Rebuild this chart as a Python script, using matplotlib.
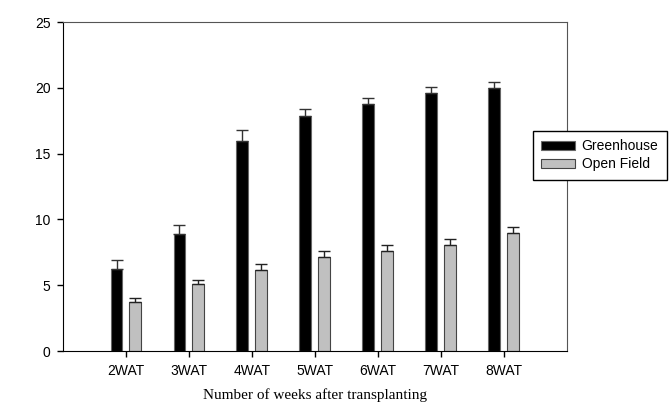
import numpy as np
import matplotlib
matplotlib.use("Agg")
import matplotlib.pyplot as plt

# weeks after transplanting
weeks = ["2WAT", "3WAT", "4WAT", "5WAT", "6WAT", "7WAT", "8WAT"]

greenhouse = [6.23, 8.89, 15.96, 17.86, 18.79, 19.60, 20.00]
greenhouse_err = [0.66, 0.68, 0.81, 0.55, 0.43, 0.46, 0.47]
open_field = [3.70, 5.07, 6.18, 7.12, 7.60, 8.05, 8.94]
open_field_err = [0.35, 0.35, 0.41, 0.45, 0.48, 0.46, 0.48]

x = np.arange(1, len(weeks) + 1)
w = 0.19
off = 0.15

fig = plt.figure(figsize=(6.7, 4.04), dpi=100)
ax = fig.add_axes([0.094, 0.131, 0.752, 0.8145])

ax.bar(x - off, greenhouse, w, color="black", edgecolor="#666666", linewidth=0.8,
       yerr=[np.zeros(len(x)), greenhouse_err], capsize=4,
       error_kw=dict(ecolor="#333333", elinewidth=1, capthick=1),
       label="Greenhouse", zorder=2)
ax.bar(x + off, open_field, w, color="#c0c0c0", edgecolor="#444444", linewidth=0.8,
       yerr=[np.zeros(len(x)), open_field_err], capsize=4,
       error_kw=dict(ecolor="#222222", elinewidth=1, capthick=1),
       label="Open Field", zorder=2)

ax.set_xlim(0, 8)
ax.set_ylim(0, 25)
ax.set_xticks(x)
ax.set_xticklabels(weeks, fontfamily="Liberation Sans", fontsize=10)
ax.set_yticks([0, 5, 10, 15, 20, 25])
ax.set_yticklabels(["0", "5", "10", "15", "20", "25"], fontfamily="Liberation Sans", fontsize=10)
ax.tick_params(direction="out", length=4, width=1, pad=5)

ax.spines["left"].set_color("black")
ax.spines["bottom"].set_color("black")
ax.spines["top"].set_color("#555555")
ax.spines["right"].set_color("#555555")

ax.set_xlabel("Number of weeks after transplanting", fontfamily="Liberation Serif",
              fontsize=11, labelpad=8)

leg = fig.legend(loc="upper left", bbox_to_anchor=(533 / 670, 1 - 131 / 404),
                 borderaxespad=0, fancybox=False, frameon=True,
                 prop=dict(family="Liberation Sans", size=10),
                 handlelength=2.4, handleheight=0.7, borderpad=0.6,
                 labelspacing=0.3, handletextpad=0.5)
leg.get_frame().set_edgecolor("black")
leg.get_frame().set_linewidth(1)
leg.get_frame().set_alpha(1)

fig.savefig("out.png", dpi=100)
